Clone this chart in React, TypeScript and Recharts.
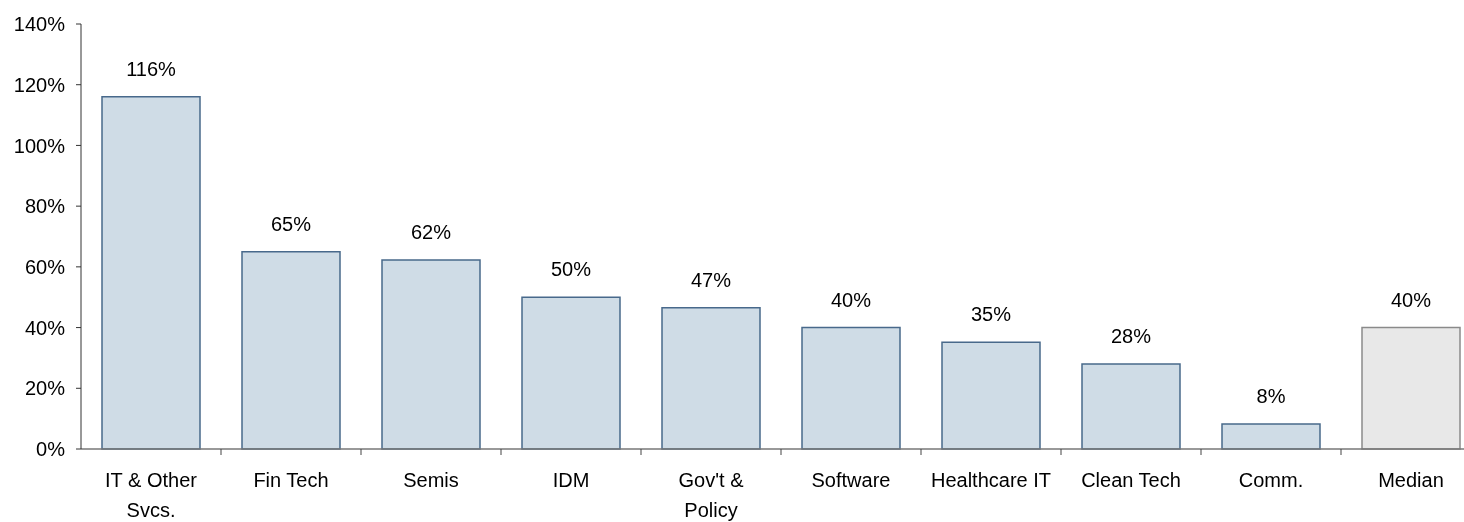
import { BarChart, Bar, XAxis, YAxis, Cell, LabelList } from 'recharts';

// category labels, '\n' marks where the axis label wraps
const categories = [
  'IT & Other\nSvcs.',
  'Fin Tech',
  'Semis',
  'IDM',
  "Gov't &\nPolicy",
  'Software',
  'Healthcare IT',
  'Clean Tech',
  'Comm.',
  'Median',
];
const values = [116, 65, 62.3, 50, 46.5, 40, 35.2, 28, 8.2, 40];
const yTicks = [0, 20, 40, 60, 80, 100, 120, 140];

const FONT = '"Liberation Sans", Arial, sans-serif';
const BAR_FILL = '#cfdce6';
const BAR_STROKE = '#48698b';
const MEDIAN_FILL = '#e8e8e8';
const MEDIAN_STROKE = '#8a8a8a';

// the last category runs past the right edge of the page, as in the original
const CHART_W = 1500;
const CHART_H = 522;
const MARGIN = { top: 24, right: 19, bottom: 13, left: 0 };
const Y_AXIS_W = 81;
const HALF_BAND = (CHART_W - MARGIN.left - MARGIN.right - Y_AXIS_W) / categories.length / 2;

const data = categories.map((name, i) => ({ name, value: values[i] }));

// label under each category plus a tick mark on the boundary to its right
function CategoryTick({ x, y, payload, index }: any) {
  const lines = String(payload.value).split('\n');
  return (
    <g>
      {index < categories.length - 1 && (
        <line x1={x + HALF_BAND} x2={x + HALF_BAND} y1={y} y2={y + 6} stroke="#444" />
      )}
      <text x={x} y={y + 38} textAnchor="middle" fill="#000" fontSize={20} fontFamily={FONT}>
        {lines.map((l, i) => (
          <tspan key={i} x={x} dy={i === 0 ? 0 : 30}>
            {l}
          </tspan>
        ))}
      </text>
    </g>
  );
}

export default function App() {
  return (
    <div style={{ position: 'fixed', left: 0, top: 0, width: 1464, height: CHART_H, overflow: 'hidden' }}>
      <BarChart width={CHART_W} height={CHART_H} data={data} margin={MARGIN} barSize={98}>
        <XAxis
          dataKey="name"
          interval={0}
          tickLine={false}
          tickSize={0}
          tickMargin={0}
          axisLine={{ stroke: '#777', strokeWidth: 1.5 }}
          tick={<CategoryTick />}
          height={60}
        />
        <YAxis
          width={Y_AXIS_W}
          domain={[0, 140]}
          ticks={yTicks}
          interval={0}
          tickFormatter={(v: number) => `${v}%`}
          axisLine={{ stroke: '#333' }}
          tickLine={{ stroke: '#333' }}
          tickSize={5}
          tickMargin={11}
          tick={{ fill: '#000', fontSize: 20, fontFamily: FONT }}
        />
        <Bar dataKey="value" isAnimationActive={false} strokeWidth={1.5}>
          {data.map((d, i) => (
            <Cell
              key={i}
              fill={d.name === 'Median' ? MEDIAN_FILL : BAR_FILL}
              stroke={d.name === 'Median' ? MEDIAN_STROKE : BAR_STROKE}
            />
          ))}
          <LabelList
            dataKey="value"
            position="top"
            offset={21}
            formatter={(v: any) => `${Math.round(Number(v))}%`}
            style={{ fill: '#000', fontSize: 20, fontFamily: FONT }}
          />
        </Bar>
      </BarChart>
    </div>
  );
}
